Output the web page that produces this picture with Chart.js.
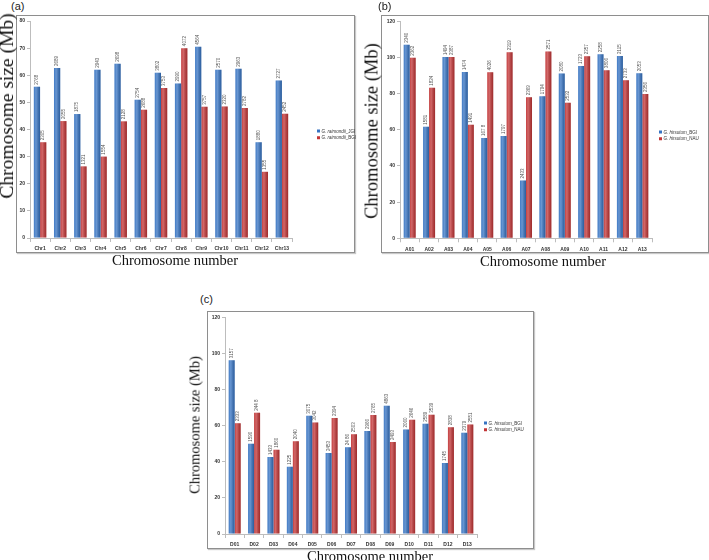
<!DOCTYPE html>
<html>
<head>
<meta charset="utf-8">
<script src="https://cdn.jsdelivr.net/npm/chart.js@4.4.1/dist/chart.umd.min.js"></script>
<style>
  body { margin: 0; background: #fff; }
  #page { position: relative; width: 709px; height: 560px; overflow: hidden; font-family: "Liberation Sans", Arial, sans-serif; }
  .frame { position: absolute; border: 1.5px solid #8e8e8e; box-sizing: border-box; box-shadow: 1px 1px 1px #c8c8c8; }
  .tag { position: absolute; font-size: 11px; color: #222; }
  canvas { position: absolute; }
  .ytitle, .xtitle { position: absolute; font-family: "Liberation Serif", "Times New Roman", serif; color: #111; white-space: nowrap; }
  .ytitle { transform: translate(-50%, -50%) rotate(-90deg); }
  .xtitle { transform: translate(-50%, -50%); }
  .legend { position: absolute; font-size: 6px; color: #333; line-height: 9px; white-space: nowrap; transform: scale(0.75); transform-origin: 0 0; }
  .legend .box { display: inline-block; width: 4px; height: 4px; margin-right: 2px; vertical-align: middle; }
</style>
</head>
<body>
<div id="page"></div>
<script>
// (a) G. raimondii
const chrA = ['Chr1', 'Chr2', 'Chr3', 'Chr4', 'Chr5', 'Chr6', 'Chr7', 'Chr8', 'Chr9', 'Chr10', 'Chr11', 'Chr12', 'Chr13'];
const jgiA = [55.8, 62.7, 45.7, 62, 64.2, 51, 60.9, 57, 70.5, 62, 62.4, 35.3, 58.1];
const bgiA = [35.3, 43.1, 26.4, 30, 43, 47.3, 55.3, 70, 48.4, 48.5, 47.9, 24.4, 45.8];
const jgiTagA = ['2768', '2689', '1875', '2943', '2698', '2754', '3802', '2990', '4564', '2570', '2963', '1880', '2727'];
const bgiTagA = ['2305', '2055', '1321', '1554', '2128', '2688', '3753', '4072', '3757', '2320', '2782', '1355', '2452'];

// (b) G. hirsutum A subgenome
const chrB = ['A01', 'A02', 'A03', 'A04', 'A05', 'A06', 'A07', 'A08', 'A09', 'A10', 'A11', 'A12', 'A13'];
const bgiB = [107, 61.7, 100.2, 92, 55.5, 56.6, 32, 78.6, 91.1, 95.3, 101.8, 100.8, 91.3];
const nauB = [99.8, 83.2, 100.2, 62.8, 91.8, 102.9, 78, 103.3, 74.9, 100.7, 93, 87.4, 79.8];
const bgiTagB = ['2340', '1581', '1494', '1474', '167 8', '1797', '2433', '1794', '2080', '1723', '2258', '2115', '2053'];
const nauTagB = ['2362', '1824', '2387', '1491', '4026', '2319', '2369', '2571', '2532', '2357', '3806', '2733', '2356'];

// (c) G. hirsutum D subgenome
const chrC = ['D01', 'D02', 'D03', 'D04', 'D05', 'D06', 'D07', 'D08', 'D09', 'D10', 'D11', 'D12', 'D13'];
const bgiC = [96.2, 50, 42.6, 37.3, 65.5, 44.8, 48, 57, 71, 57.8, 61.1, 39.3, 56];
const nauC = [61.3, 67.2, 46.6, 51.4, 61.8, 64.3, 55.3, 65.9, 51, 63.3, 66.1, 59.1, 60.6];
const bgiTagC = ['3157', '1590', '1433', '1225', '3075', '2453', '24 86', '2966', '4863', '2060', '2589', '1745', '2379'];
const nauTagC = ['2333', '244 8', '1860', '2040', '3042', '2394', '2503', '2765', '2493', '2646', '3539', '2838', '2551'];

const BLUE = '#3673c2';
const RED = '#c23536';
const tickFont = { family: "'Liberation Sans', Arial, sans-serif", size: 5, weight: 'bold' };

// cylinder-ish shading on top of the bars, like the Excel original
const barShade = {
  id: 'barShade',
  afterDatasetsDraw(chart) {
    const ctx = chart.ctx;
    ctx.save();
    chart.data.datasets.forEach((ds, i) => {
      chart.getDatasetMeta(i).data.forEach(bar => {
        const left = bar.x - bar.width / 2;
        const g = ctx.createLinearGradient(left, 0, left + bar.width, 0);
        g.addColorStop(0, 'rgba(255,255,255,0.05)');
        g.addColorStop(0.35, 'rgba(255,255,255,0.25)');
        g.addColorStop(1, 'rgba(0,0,0,0.18)');
        ctx.fillStyle = g;
        ctx.fillRect(left, bar.y, bar.width, bar.base - bar.y);
      });
    });
    ctx.restore();
  }
};

// gene counts written vertically above each bar
const valueTags = {
  id: 'valueTags',
  afterDatasetsDraw(chart) {
    const ctx = chart.ctx;
    ctx.save();
    ctx.font = "4.5px 'Liberation Sans', Arial, sans-serif";
    ctx.fillStyle = '#555';
    ctx.textAlign = 'left';
    ctx.textBaseline = 'middle';
    chart.data.datasets.forEach((ds, i) => {
      chart.getDatasetMeta(i).data.forEach((bar, j) => {
        ctx.save();
        ctx.translate(bar.x, bar.y - 2);
        ctx.rotate(-Math.PI / 2);
        ctx.fillText(ds.tags[j], 0, 0);
        ctx.restore();
      });
    });
    ctx.restore();
  }
};

const page = document.getElementById('page');

function addDiv(cls, css, html) {
  const d = document.createElement('div');
  d.className = cls;
  Object.assign(d.style, css);
  d.innerHTML = html;
  page.appendChild(d);
  return d;
}

function makePanel(p) {
  addDiv('frame', { left: p.frame[0] + 'px', top: p.frame[1] + 'px', width: (p.frame[2] - p.frame[0]) + 'px', height: (p.frame[3] - p.frame[1]) + 'px' }, '');
  addDiv('tag', { left: p.tagPos[0] + 'px', top: p.tagPos[1] + 'px' }, p.tag);

  const cv = document.createElement('canvas');
  cv.width = p.box.w;
  cv.height = p.box.h;
  cv.style.left = p.box.left + 'px';
  cv.style.top = p.box.top + 'px';
  page.appendChild(cv);

  const areaL = p.area.left - p.box.left;
  const areaR = p.area.right - p.box.left;
  const areaT = p.area.top - p.box.top;
  const areaB = p.area.bottom - p.box.top;

  const chart = new Chart(cv.getContext('2d'), {
    type: 'bar',
    data: {
      labels: p.labels,
      datasets: p.series.map(s => ({
        label: s.name,
        data: s.data,
        tags: s.tags,
        backgroundColor: s.color,
        borderWidth: 0,
        categoryPercentage: 0.62,
        barPercentage: 1
      }))
    },
    options: {
      responsive: false,
      animation: false,
      layout: { padding: { left: 0, right: p.box.w - areaR, top: areaT, bottom: 0 } },
      plugins: { legend: { display: false }, tooltip: { enabled: false } },
      scales: {
        x: {
          afterFit: s => { s.height = p.box.h - areaB; },
          grid: { drawOnChartArea: false, tickLength: 4, color: '#bdbdbd' },
          border: { color: '#bdbdbd' },
          ticks: { font: tickFont, color: '#333', padding: 4, maxRotation: 0, autoSkip: false }
        },
        y: {
          min: 0,
          max: p.yMax,
          afterFit: s => { s.width = areaL; },
          grid: { drawOnChartArea: false, tickLength: 3, color: '#bdbdbd' },
          border: { color: '#bdbdbd' },
          ticks: { stepSize: p.yStep, font: tickFont, color: '#333', padding: 2 }
        }
      }
    },
    plugins: [barShade, valueTags]
  });

  addDiv('ytitle', { left: p.yTitle[0] + 'px', top: p.yTitle[1] + 'px', fontSize: p.yTitle[2] + 'px' }, 'Chromosome size (Mb)');
  addDiv('xtitle', { left: p.xTitle[0] + 'px', top: p.xTitle[1] + 'px', fontSize: p.xTitle[2] + 'px' }, 'Chromosome number');

  const leg = addDiv('legend', { left: p.legend[0] + 'px', top: p.legend[1] + 'px' }, '');
  chart.data.datasets.forEach(ds => {
    const parts = ds.label.split('_');
    leg.innerHTML += '<div><span class="box" style="background:' + ds.backgroundColor + '"></span><i>' + parts[0] + '</i>_' + parts[1] + '</div>';
  });
}

makePanel({
  tag: '(a)', tagPos: [11, 0],
  frame: [16, 15, 355, 253],
  box: { left: 0, top: 0, w: 356, h: 280 },
  area: { left: 30, right: 292, top: 21, bottom: 238 },
  labels: chrA, yMax: 80, yStep: 10,
  series: [
    { name: 'G. raimondii_JGI', data: jgiA, tags: jgiTagA, color: BLUE },
    { name: 'G. raimondii_BGI', data: bgiA, tags: bgiTagA, color: RED }
  ],
  yTitle: [7, 106, 19.5], xTitle: [175, 260, 14.5],
  legend: [317, 128]
});

makePanel({
  tag: '(b)', tagPos: [378, 0],
  frame: [381, 15, 709, 253],
  box: { left: 356, top: 0, w: 353, h: 280 },
  area: { left: 400, right: 652, top: 21.3, bottom: 238.3 },
  labels: chrB, yMax: 120, yStep: 20,
  series: [
    { name: 'G. hirsutum_BGI', data: bgiB, tags: bgiTagB, color: BLUE },
    { name: 'G. hirsutum_NAU', data: nauB, tags: nauTagB, color: RED }
  ],
  yTitle: [372, 131, 18.5], xTitle: [543, 261, 14.5],
  legend: [659, 129]
});

makePanel({
  tag: '(c)', tagPos: [200, 293],
  frame: [207, 311, 534, 549],
  box: { left: 140, top: 290, w: 420, h: 270 },
  area: { left: 225, right: 477, top: 317.3, bottom: 534 },
  labels: chrC, yMax: 120, yStep: 20,
  series: [
    { name: 'G. hirsutum_BGI', data: bgiC, tags: bgiTagC, color: BLUE },
    { name: 'G. hirsutum_NAU', data: nauC, tags: nauTagC, color: RED }
  ],
  yTitle: [195, 425, 14.5], xTitle: [370, 556, 14.5],
  legend: [484, 420]
});
</script>
</body>
</html>
